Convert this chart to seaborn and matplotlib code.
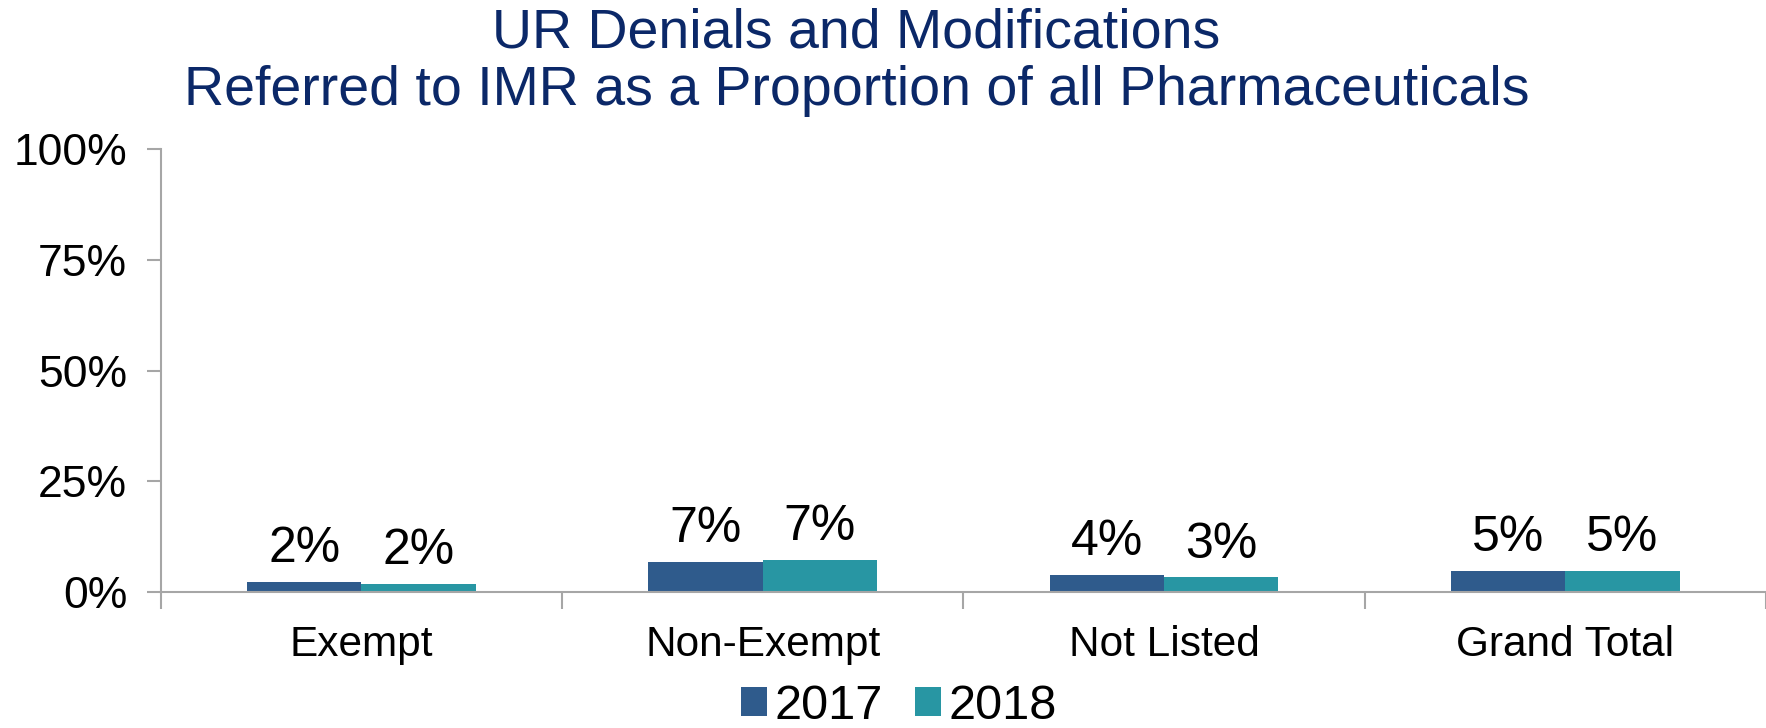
import numpy as np
import pandas as pd
import matplotlib
matplotlib.use("Agg")
import matplotlib.pyplot as plt
import seaborn as sns
from matplotlib.ticker import FixedLocator, PercentFormatter

# Data
categories = ["Exempt", "Non-Exempt", "Not Listed", "Grand Total"]
years = ["2017", "2018"]
vals_2017 = [2.2, 6.8, 3.8, 4.8]
vals_2018 = [1.8, 7.3, 3.3, 4.8]
labels_2017 = ["2%", "7%", "4%", "5%"]
labels_2018 = ["2%", "7%", "3%", "5%"]

df = pd.DataFrame({
    "category": categories * 2,
    "year": [years[0]] * 4 + [years[1]] * 4,
    "value": vals_2017 + vals_2018,
})

sns.set_theme(style="white")
plt.rcParams["font.family"] = ["Liberation Sans", "DejaVu Sans"]
plt.rcParams["text.color"] = "black"

palette = {"2017": "#2F5B8C", "2018": "#2896A3"}
axis_grey = "#A6A6A6"

fig = plt.figure(figsize=(17.66, 7.28), dpi=100)
ax = fig.add_axes([0.091, 0.187, 0.909, 0.608])

sns.barplot(data=df, x="category", y="value", hue="year", order=categories,
            hue_order=years, palette=palette, width=0.57, saturation=1,
            edgecolor="none", ax=ax)

for cont, labs in zip(ax.containers, [labels_2017, labels_2018]):
    ax.bar_label(cont, labels=labs, padding=7, fontsize=36, color="black")

ax.set_ylim(0, 100)
ax.set_xlim(-0.5, len(categories) - 0.5)
ax.set_yticks([0, 25, 50, 75, 100])
ax.yaxis.set_major_formatter(PercentFormatter(decimals=0))
ax.tick_params(axis="y", labelsize=32, length=10, width=1.5, color=axis_grey,
               direction="out", left=True, pad=14, labelcolor="black")
ax.tick_params(axis="x", which="major", labelsize=30.5, length=0, pad=24,
               labelcolor="black")
ax.xaxis.set_minor_locator(FixedLocator(np.arange(-0.5, len(categories), 1)))
ax.tick_params(axis="x", which="minor", length=12, width=1.5, color=axis_grey,
               bottom=True)
ax.set_xlabel("")
ax.set_ylabel("")

for side in ["top", "right"]:
    ax.spines[side].set_visible(False)
for side in ["left", "bottom"]:
    ax.spines[side].set_color(axis_grey)
    ax.spines[side].set_linewidth(1.5)

fig.text(0.485, 0.99, "UR Denials and Modifications\nReferred to IMR as a Proportion of all Pharmaceuticals",
         ha="center", va="top", fontsize=40, color="#0B2868", linespacing=1.15)

leg = ax.legend(loc="center", bbox_to_anchor=(0.509, 0.03), bbox_transform=fig.transFigure,
                ncol=2, frameon=False, fontsize=35, handlelength=0.55, handleheight=0.55,
                handletextpad=0.15, columnspacing=0.65, title=None, labelcolor="black")

fig.savefig("out.png", dpi=100)
